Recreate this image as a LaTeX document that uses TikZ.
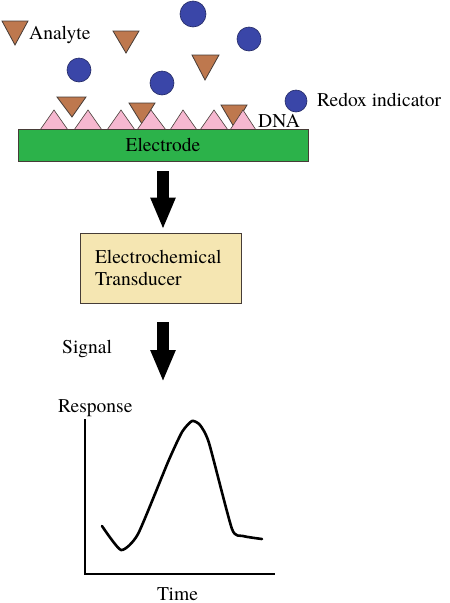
\documentclass[tikz,border=0pt]{standalone}
\usepackage{fontspec}
\setmainfont{TeX Gyre Termes}
\usetikzlibrary{arrows.meta}
\definecolor{anbrown}{RGB}{190,120,78}
\definecolor{rxblue}{RGB}{58,70,168}
\definecolor{dnapink}{RGB}{246,184,208}
\definecolor{elgreen}{RGB}{44,178,74}
\definecolor{trbox}{RGB}{245,230,178}
\definecolor{edge}{RGB}{70,60,55}
\begin{document}
\begin{tikzpicture}[x=1pt,y=-1pt,
  every node/.style={font=\fontsize{19.5}{22}\selectfont},
  lbl/.style={inner sep=0pt,anchor=base west},
  analyte/.style={fill=anbrown,draw=edge,line width=0.8pt,line join=miter},
  dna/.style={fill=dnapink,draw=edge,line width=0.6pt},
  redox/.style={fill=rxblue,draw=rxblue!60!black,line width=0.6pt},
  bigarrow/.style={line width=12pt,-{Triangle[length=32pt,width=23pt]}}]
\useasboundingbox (0,0) rectangle (450,603);

% redox indicators
\foreach \cx/\cy/\r in {193/14/13, 249/39/12, 79/70/12, 162/83/12, 296/101/11}
  \draw[redox] (\cx,\cy) circle[radius=\r];

% analytes
\draw[analyte] (2,21) -- (28,21) -- (15,45) -- cycle;
\draw[analyte] (113,31) -- (139,31) -- (126,53) -- cycle;
\draw[analyte] (192,55) -- (219,55) -- (205,80) -- cycle;
\draw[analyte] (57,97) -- (86,97) -- (72,117) -- cycle;
\draw[analyte] (129,103) -- (155,103) -- (142,124) -- cycle;
\draw[analyte] (221,105) -- (247,105) -- (234,127) -- cycle;

% DNA probes
\foreach \l/\a/\r in {40/54/68, 74/88/102, 107/121/135, 137/151/166, 170/183/197, 200/214/228, 230/243/256}
  \draw[dna] (\l,130) -- (\a,110) -- (\r,130) -- cycle;

% electrode
\node[draw=edge,fill=elgreen,line width=0.8pt,minimum width=290pt,minimum height=32pt,inner sep=0pt] (electrode) at (163,145) {Electrode};

% labels
\node[lbl] (analytelbl) at (29,39) {Analyte};
\node[lbl] (redoxlbl) at (317,106) {Redox indicator};
\node[lbl] (dnalbl) at (258,127) {DNA};

% transducer
\node[draw=edge,fill=trbox,line width=0.8pt,minimum width=161pt,minimum height=70pt,
      text width=131pt,inner xsep=15pt,align=left] (trans) at (160.5,268)
      {Electrochemical\\Transducer};

\draw[bigarrow] ([yshift=-10pt,xshift=0pt]electrode.south) -- ([xshift=2.5pt,yshift=3pt]trans.north);

\coordinate (sigtip) at (163,382);
\draw[bigarrow] ([xshift=2.5pt,yshift=-19pt]trans.south) -- (sigtip);
\node[lbl] (signal) at (62,353) {Signal};

% graph
\coordinate (orig) at (85,574);
\coordinate (ytop) at (85,419);
\coordinate (xend) at (275,574);
\draw[line width=2.6pt] (ytop) -- (orig) -- (xend);
\node[lbl] (resp) at (58,412) {Response};
\node[lbl] (time) at (157,600) {Time};
\draw[line width=2.6pt,line join=round,line cap=round]
  plot[smooth,tension=0.35] coordinates {(102,526) (121,550) (138,534) (168,462) (182,432) (192,421) (200,425) (209,443) (232,529) (243,536) (262,539)};
\end{tikzpicture}
\end{document}
